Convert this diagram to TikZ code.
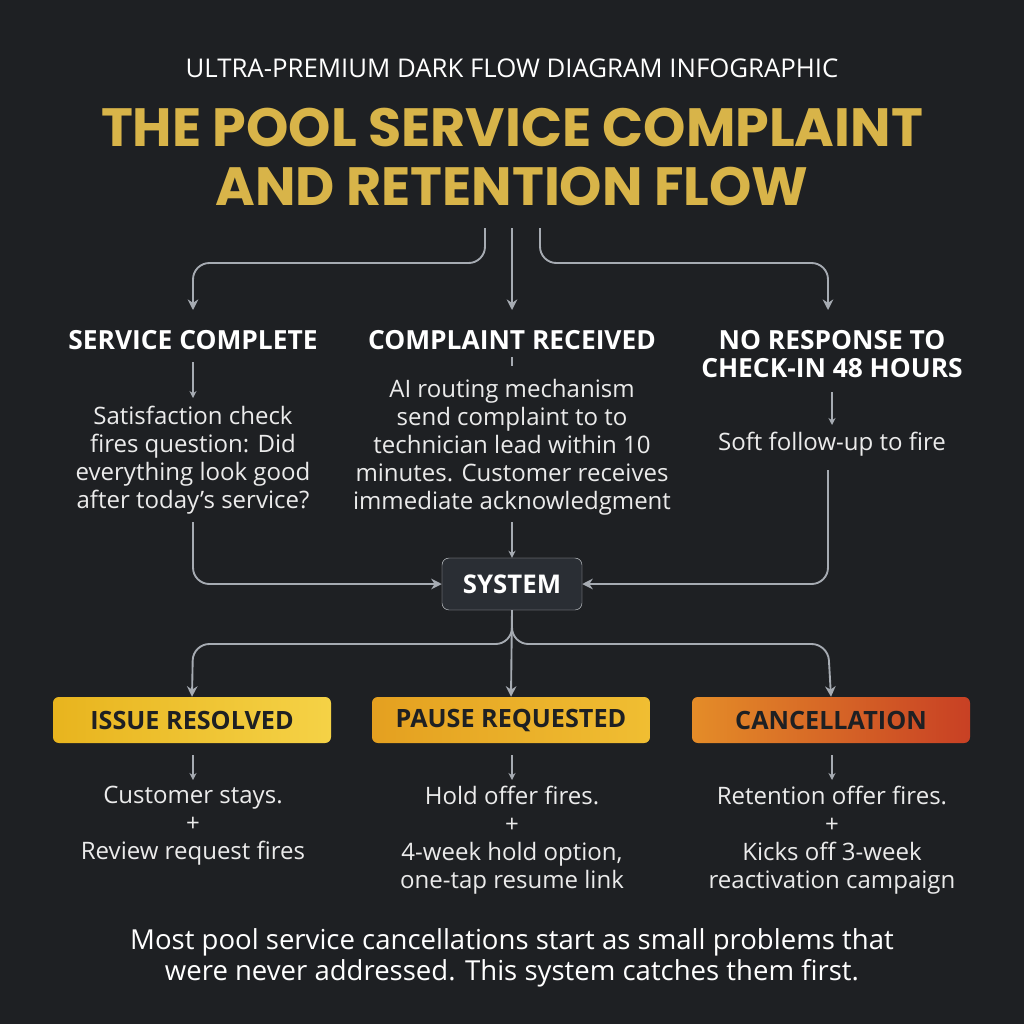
\documentclass[tikz,border=0pt]{standalone}
\usepackage{fontspec}
\setmainfont{Open Sans}
\newfontfamily\headfont{Poppins}
\usetikzlibrary{arrows.meta}
\definecolor{bgdark}{HTML}{1E2023}
\definecolor{goldtxt}{HTML}{D8B449}
\definecolor{linegray}{HTML}{A6ABB2}
\definecolor{boxdark}{HTML}{2A2E34}
\begin{document}
\begin{tikzpicture}[x=0.03cm,y=-0.03cm,
    flow/.style={draw=linegray, line width=1.6pt, rounded corners=14pt, -{Stealth[length=9pt,width=9pt]}},
    tick/.style={draw=linegray, line width=1.2pt, -{Stealth[length=6pt,width=6pt]}},
    head/.style={text=white, font=\bfseries\fontsize{22.5}{24}\selectfont, align=center},
    body/.style={text=white!92!black, font=\fontsize{20.5}{24}\selectfont, align=center},
    outcome/.style={minimum width=278*0.03cm, minimum height=46*0.03cm, rounded corners=5pt,
        text=bgdark, font=\bfseries\fontsize{21.5}{24}\selectfont}]
    % Background
    \fill[bgdark] (0,0) rectangle (1024,1024);
    \useasboundingbox (0,0) rectangle (1024,1024);

    % Title
    \node[text=white, font=\fontsize{22}{24}\selectfont] (sub) at (512,68) {ULTRA-PREMIUM DARK FLOW DIAGRAM INFOGRAPHIC};
    \node[text=goldtxt, font=\headfont\bfseries\fontsize{46}{51}\selectfont, align=center] (title) at (512,157)
        {THE POOL SERVICE COMPLAINT\\AND RETENTION FLOW};

    % Top branches
    \coordinate (tl) at (485,228);
    \coordinate (tm) at (512,228);
    \coordinate (tr) at (540,228);
    \node[head] (svc) at (193,340) {SERVICE COMPLETE};
    \node[head] (cmp) at (512,340) {COMPLAINT RECEIVED};
    \node[head] (nor) at (832,354) {NO RESPONSE TO\\CHECK-IN 48 HOURS};
    \draw[flow] (tl) -- (485,263) -- (193,263) -- (193,310);
    \draw[flow] (tm) -- (512,310);
    \draw[flow] (tr) -- (540,263) -- (828,263) -- (828,310);

    % Descriptions
    \node[body] (svcd) at (193,460) {Satisfaction check\\fires question: Did\\everything look good\\after today’s service?};
    \node[body] (cmpd) at (512,447) {AI routing mechanism\\send complaint to to\\technician lead within 10\\minutes. Customer receives\\immediate acknowledgment};
    \node[body] (nord) at (832,444) {Soft follow-up to fire};
    \draw[tick] (193,362) -- (193,398);
    \draw[line width=1pt, linegray] (512,357) -- (512,366);
    \draw[tick] (832,392) -- (832,425);

    % System
    \node[draw=linegray!60, fill=boxdark, rounded corners=6pt, minimum width=140*0.03cm, minimum height=52*0.03cm,
        text=white, font=\bfseries\fontsize{22}{24}\selectfont] (sys) at (512,584) {SYSTEM};
    \draw[flow] (193,522) -- (193,584) -- (sys.west);
    \draw[flow] (828,470) -- (828,584) -- (sys.east);
    \draw[tick] (512,522) -- (sys.north);

    % Outcomes
    \node[outcome, left color={rgb,255:red,232;green,180;blue,30}, right color={rgb,255:red,245;green,210;blue,70}] (res) at (192,720) {ISSUE RESOLVED};
    \node[outcome, left color={rgb,255:red,228;green,160;blue,32}, right color={rgb,255:red,240;green,190;blue,50}] (pau) at (511,720) {PAUSE REQUESTED};
    \node[outcome, left color={rgb,255:red,228;green,140;blue,40}, right color={rgb,255:red,200;green,64;blue,36}] (can) at (831,720) {CANCELLATION};
    \draw[flow] (sys.south) -- (512,644) -- (193,644) -- (res.north);
    \draw[flow] (sys.south) -- (512,644) -- (828,644) -- (can.north);
    \draw[flow] (sys.south) -- (pau.north);

    % Outcome details
    \draw[tick] (193,755) -- (193,780);
    \draw[tick] (512,755) -- (512,780);
    \draw[tick] (832,755) -- (832,780);
    \node[body] (resd) at (193,826) {Customer stays.\\+\\Review request fires};
    \node[body] (paud) at (512,840) {Hold offer fires.\\+\\4-week hold option,\\one-tap resume link};
    \node[body] (cand) at (832,840) {Retention offer fires.\\+\\Kicks off 3-week\\reactivation campaign};

    % Footer
    \node[text=white, font=\fontsize{23.5}{26}\selectfont, align=center] (foot) at (512,958)
        {Most pool service cancellations start as small problems that\\were never addressed. This system catches them first.};
\end{tikzpicture}
\end{document}
